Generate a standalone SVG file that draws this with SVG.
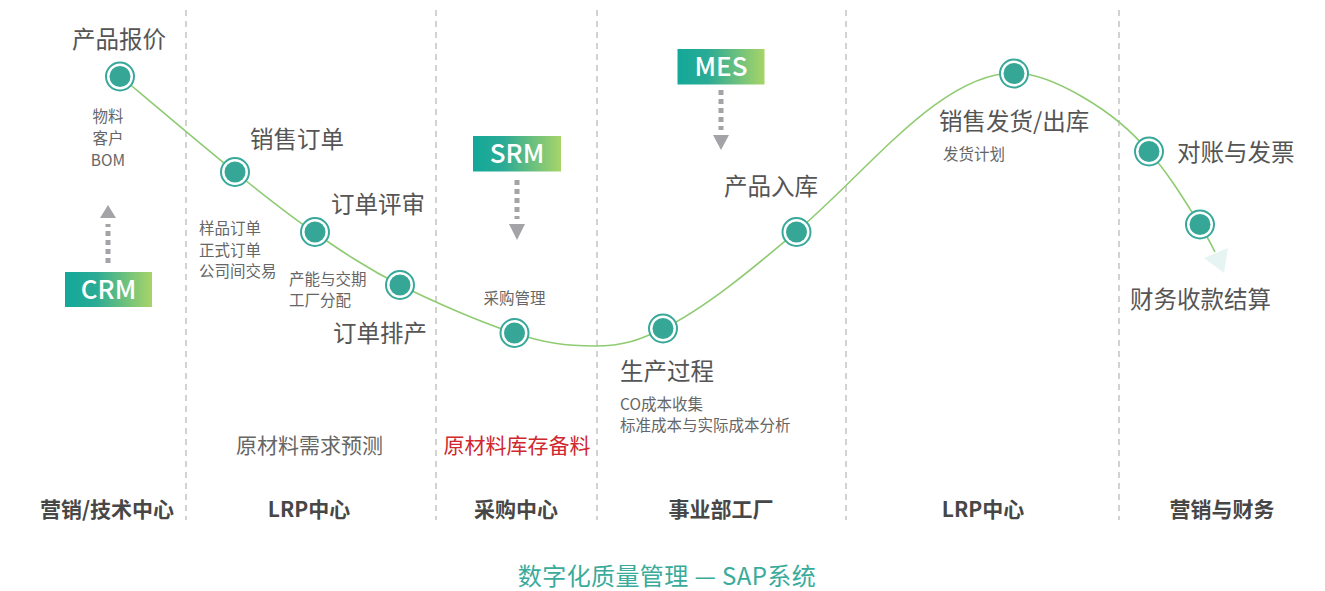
<svg xmlns="http://www.w3.org/2000/svg" width="1325" height="591" viewBox="0 0 1325 591">
<style>
text{font-family:"Noto Sans CJK SC","Noto Sans",sans-serif;}
.lbl{font-size:23.5px;fill:#555;}
.sm{font-size:15.5px;fill:#666;}
.mid{font-size:21px;fill:#666;}
.bot{font-size:21px;font-weight:700;fill:#474747;}
.sys{font-size:26px;font-weight:500;fill:#fff;}
.ring{fill:#fff;stroke:#38a89a;stroke-width:2;}
.dot{fill:#36a797;}
.div{stroke:#c4c4c4;stroke-width:1.5;stroke-dasharray:6 5;}
.dots{stroke:#a4a4a8;stroke-width:5;stroke-dasharray:5 4;fill:none;}
.tri{fill:#a4a4a8;}
</style>
<defs>
<linearGradient id="g" x1="0" y1="0" x2="1" y2="0">
<stop offset="0" stop-color="#12a899"/>
<stop offset="0.35" stop-color="#2aab95"/>
<stop offset="1" stop-color="#a8d468"/>
</linearGradient>
</defs>
<rect width="1325" height="591" fill="#fff"/>
<g id="dividers">
<line class="div" x1="186" y1="10" x2="186" y2="520"/>
<line class="div" x1="436" y1="10" x2="436" y2="520"/>
<line class="div" x1="597" y1="10" x2="597" y2="520"/>
<line class="div" x1="846" y1="10" x2="846" y2="520"/>
<line class="div" x1="1119" y1="10" x2="1119" y2="520"/>
</g>
<g id="connectors">
<path d="M120,76 C158,108 202.5,145.8 235,172 C267.5,198.2 287.5,214.2 315,233 C342.5,251.8 366.8,268.3 400,285 C433.2,301.7 482.3,322.8 514,333 C545.7,343.2 565,346 595,346 C625,346 638,340 663,329 C707,307 752,269 796,232 C869,170 941,73 1014,73 C1050,73 1115,110 1149,152 C1169,174 1185,201 1200,225 C1207,236 1212,246 1215,252" fill="none" stroke="#8fcb72" stroke-width="1.6"/>
<polygon points="1204,258 1228,248 1224,273" fill="#e6f5f1"/>
<line class="dots" x1="108" y1="263" x2="108" y2="224"/>
<polygon class="tri" points="100,218 116,218 108,205"/>
<line class="dots" x1="517" y1="180" x2="517" y2="219"/>
<polygon class="tri" points="509,224 525,224 517,240"/>
<line class="dots" x1="721" y1="90" x2="721" y2="130"/>
<polygon class="tri" points="713,135 729,135 721,150"/>
</g>
<g id="crm">
<rect x="65" y="272" width="87" height="35" fill="url(#g)"/>
<text class="sys" x="108.5" y="299" text-anchor="middle">CRM</text>
</g>
<g id="srm">
<rect x="473" y="136" width="88" height="35.5" fill="url(#g)"/>
<text class="sys" x="517" y="163" text-anchor="middle">SRM</text>
</g>
<g id="mes">
<rect x="677.5" y="49" width="87" height="35.5" fill="url(#g)"/>
<text class="sys" x="721" y="76" text-anchor="middle">MES</text>
</g>
<g id="n1">
<circle class="ring" cx="120" cy="76.5" r="14"/><circle class="dot" cx="120" cy="76.5" r="10.5"/>
<text class="lbl" x="72" y="48">产品报价</text>
<text class="sm" x="108" y="122" text-anchor="middle">物料</text>
<text class="sm" x="108" y="144" text-anchor="middle">客户</text>
<text class="sm" x="108" y="166" text-anchor="middle">BOM</text>
</g>
<g id="n2">
<circle class="ring" cx="235" cy="172" r="14"/><circle class="dot" cx="235" cy="172" r="10.5"/>
<text class="lbl" x="250" y="148">销售订单</text>
<text class="sm" x="199" y="234">样品订单</text>
<text class="sm" x="199" y="256">正式订单</text>
<text class="sm" x="199" y="277">公司间交易</text>
</g>
<g id="n3">
<circle class="ring" cx="315" cy="232" r="14"/><circle class="dot" cx="315" cy="232" r="10.5"/>
<text class="lbl" x="331" y="213">订单评审</text>
<text class="sm" x="289" y="285">产能与交期</text>
<text class="sm" x="289" y="306">工厂分配</text>
</g>
<g id="n4">
<circle class="ring" cx="400" cy="285" r="14"/><circle class="dot" cx="400" cy="285" r="10.5"/>
<text class="lbl" x="333" y="342">订单排产</text>
</g>
<g id="n5">
<circle class="ring" cx="514.5" cy="333" r="14"/><circle class="dot" cx="514.5" cy="333" r="10.5"/>
<text class="sm" x="514.5" y="304" text-anchor="middle">采购管理</text>
</g>
<g id="n6">
<circle class="ring" cx="663" cy="328.5" r="14"/><circle class="dot" cx="663" cy="328.5" r="10.5"/>
<text class="lbl" x="620" y="380">生产过程</text>
<text class="sm" x="620" y="410">CO成本收集</text>
<text class="sm" x="620" y="431">标准成本与实际成本分析</text>
</g>
<g id="n7">
<circle class="ring" cx="796.5" cy="232" r="14"/><circle class="dot" cx="796.5" cy="232" r="10.5"/>
<text class="lbl" x="724" y="195">产品入库</text>
</g>
<g id="n8">
<circle class="ring" cx="1014" cy="73.5" r="14"/><circle class="dot" cx="1014" cy="73.5" r="10.5"/>
<text class="lbl" x="939" y="130">销售发货/出库</text>
<text class="sm" x="943" y="160">发货计划</text>
</g>
<g id="n9">
<circle class="ring" cx="1149" cy="151.5" r="14"/><circle class="dot" cx="1149" cy="151.5" r="10.5"/>
<text class="lbl" x="1177" y="161">对账与发票</text>
</g>
<g id="n10">
<circle class="ring" cx="1200" cy="224.5" r="14"/><circle class="dot" cx="1200" cy="224.5" r="10.5"/>
<text class="lbl" x="1130" y="308">财务收款结算</text>
</g>
<g id="notes">
<text class="mid" x="309.5" y="453" text-anchor="middle">原材料需求预测</text>
<text class="mid" x="517" y="453" text-anchor="middle" style="fill:#d0282e">原材料库存备料</text>
</g>
<g id="departments">
<text class="bot" x="107" y="517" text-anchor="middle">营销/技术中心</text>
<text class="bot" x="309" y="517" text-anchor="middle">LRP中心</text>
<text class="bot" x="516" y="517" text-anchor="middle">采购中心</text>
<text class="bot" x="721" y="517" text-anchor="middle">事业部工厂</text>
<text class="bot" x="983" y="517" text-anchor="middle">LRP中心</text>
<text class="bot" x="1222" y="517" text-anchor="middle">营销与财务</text>
</g>
<g id="footer">
<text x="667" y="585" text-anchor="middle" style="font-size:24px;letter-spacing:0.4px;fill:#3aab9b">数字化质量管理 — SAP系统</text>
</g>
</svg>
